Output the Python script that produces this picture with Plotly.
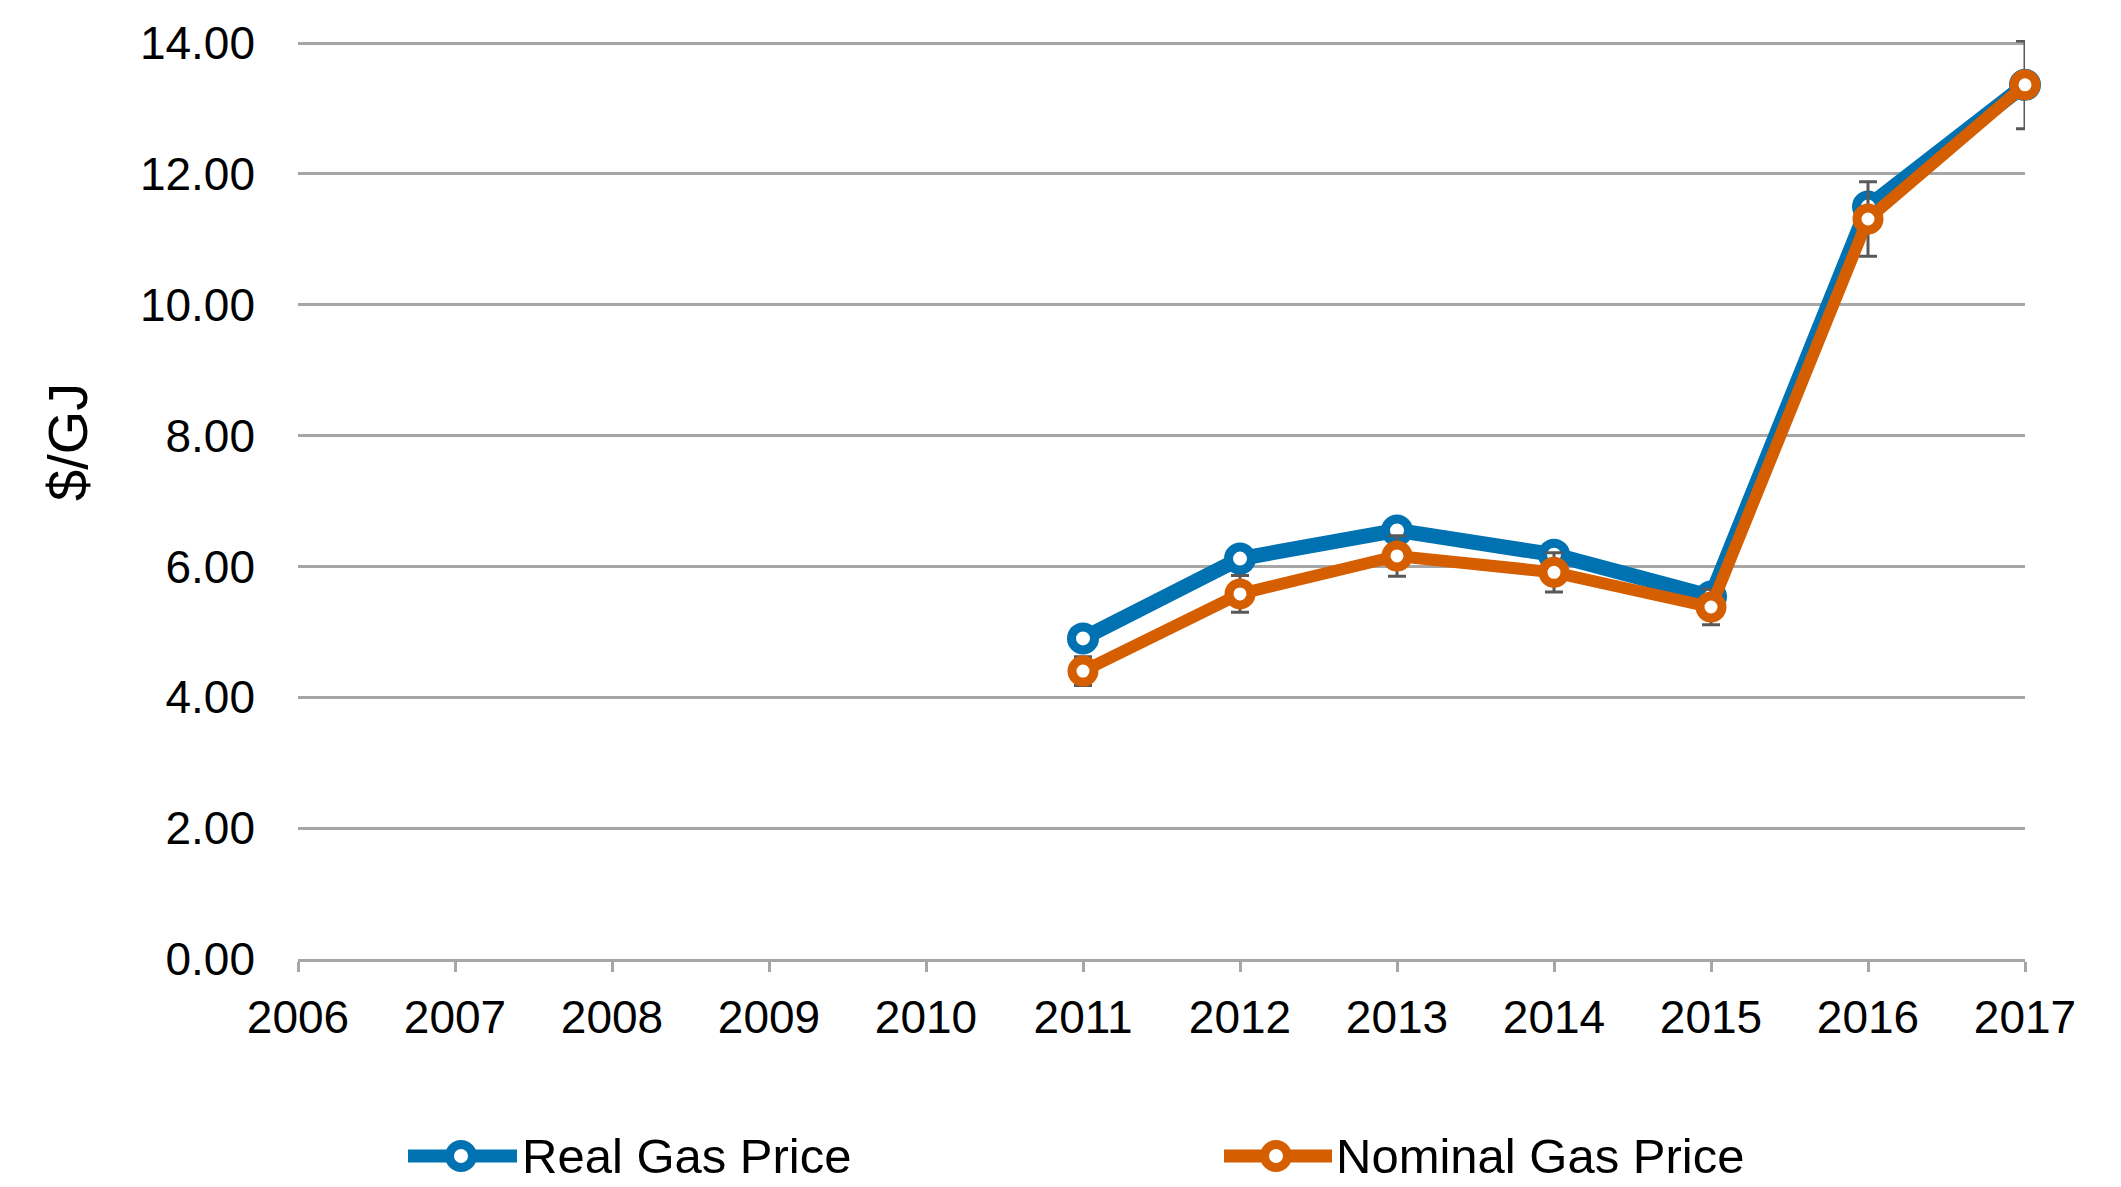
import plotly.graph_objects as go

years = [2011, 2012, 2013, 2014, 2015, 2016, 2017]
real_price = [4.90, 6.12, 6.55, 6.18, 5.54, 11.50, 13.36]
nominal_price = [4.40, 5.58, 6.16, 5.91, 5.38, 11.31, 13.36]
nominal_error = [0.22, 0.28, 0.31, 0.30, 0.27, 0.57, 0.67]
x_ticks = list(range(2006, 2018))
y_ticks = [0, 2, 4, 6, 8, 10, 12, 14]
series_names = ["Real Gas Price", "Nominal Gas Price"]
y_title = "$/GJ"

BLUE = "#0072B2"
ORANGE = "#D55E00"
GRID = "#A6A6A6"
FONT = "Liberation Sans, Arial, sans-serif"

# page has an 8px body margin, so the figure is drawn 8px smaller
OFF = 8
W, H = 2121 - OFF, 1187 - OFF
ML = 298 - OFF
TOP_TICK_PX = 43 - OFF          # where the 14.00 line sits
MT = TOP_TICK_PX - 3            # a little headroom so the top gridline is drawn
PLOT_RIGHT = 2025 - OFF
PLOT_BOTTOM = 959 - OFF
MR = W - PLOT_RIGHT
MB = H - PLOT_BOTTOM
PW = PLOT_RIGHT - ML
PH = PLOT_BOTTOM - MT
Y_TOP = y_ticks[-1] * (PLOT_BOTTOM - MT) / (PLOT_BOTTOM - TOP_TICK_PX)

fig = go.Figure()
fig.add_trace(go.Scatter(
    x=years, y=real_price, name=series_names[0], mode="lines+markers",
    line=dict(color=BLUE, width=15),
    marker=dict(size=23, color="white", line=dict(color=BLUE, width=9)),
    cliponaxis=False, showlegend=False,
))
fig.add_trace(go.Scatter(
    x=years, y=nominal_price, name=series_names[1], mode="lines+markers",
    line=dict(color=ORANGE, width=12),
    marker=dict(size=22, color="white", line=dict(color=ORANGE, width=9)),
    error_y=dict(type="data", array=nominal_error, visible=True,
                 color="#595959", thickness=3, width=9),
    cliponaxis=False, showlegend=False,
))

def px_to_paper_x(px):
    return (px - OFF - ML) / PW

def px_to_paper_y(py):
    return (PLOT_BOTTOM - (py - OFF)) / PH

# custom legend (long line symbols as in the reference)
legend_y = 1156
legend_items = [
    (series_names[0], BLUE, 408, 517, 461, 520),
    (series_names[1], ORANGE, 1224, 1332, 1276, 1334),
]
shapes = []
annotations = []
for name, col, x0, x1, xc, xt in legend_items:
    yp = px_to_paper_y(legend_y)
    shapes.append(dict(type="line", xref="paper", yref="paper",
                       x0=px_to_paper_x(x0), x1=px_to_paper_x(x1), y0=yp, y1=yp,
                       line=dict(color=col, width=13)))
    shapes.append(dict(type="circle", xref="paper", yref="paper",
                       xsizemode="pixel", ysizemode="pixel",
                       xanchor=px_to_paper_x(xc), yanchor=yp,
                       x0=-11.5, x1=11.5, y0=-11.5, y1=11.5,
                       fillcolor="white", line=dict(color=col, width=9)))
    annotations.append(dict(text=name, xref="paper", yref="paper",
                            x=px_to_paper_x(xt), y=yp, xanchor="left", yanchor="middle",
                            showarrow=False, font=dict(family=FONT, size=49, color="#000000")))

# y-axis title placed as in the reference (above the plot's centre)
annotations.append(dict(text=y_title, xref="paper", yref="paper",
                        x=px_to_paper_x(67), y=px_to_paper_y(442),
                        xanchor="center", yanchor="middle", textangle=-90,
                        showarrow=False, font=dict(family=FONT, size=56, color="#000000")))

fig.update_layout(
    width=W, height=H,
    margin=dict(l=ML, r=MR, t=MT, b=MB, autoexpand=False),
    paper_bgcolor="white", plot_bgcolor="white",
    font=dict(family=FONT, color="#000000"),
    shapes=shapes, annotations=annotations,
    xaxis=dict(range=[2006, 2017], tickmode="array", tickvals=x_ticks,
               ticktext=[str(v) for v in x_ticks],
               showgrid=False, zeroline=False,
               showline=True, linecolor=GRID, linewidth=3,
               ticks="outside", ticklen=10, tickwidth=3, tickcolor=GRID,
               tickfont=dict(size=46, color="#000000"), ticklabelstandoff=6),
    yaxis=dict(range=[0, Y_TOP], tickmode="array", tickvals=y_ticks,
               ticktext=[f"{v:.2f}" for v in y_ticks],
               showgrid=True, gridcolor=GRID, gridwidth=3,
               zeroline=False, showline=False, ticks="",
               tickfont=dict(size=46, color="#000000"), ticklabelstandoff=42),
)

fig.write_html("out.html")
